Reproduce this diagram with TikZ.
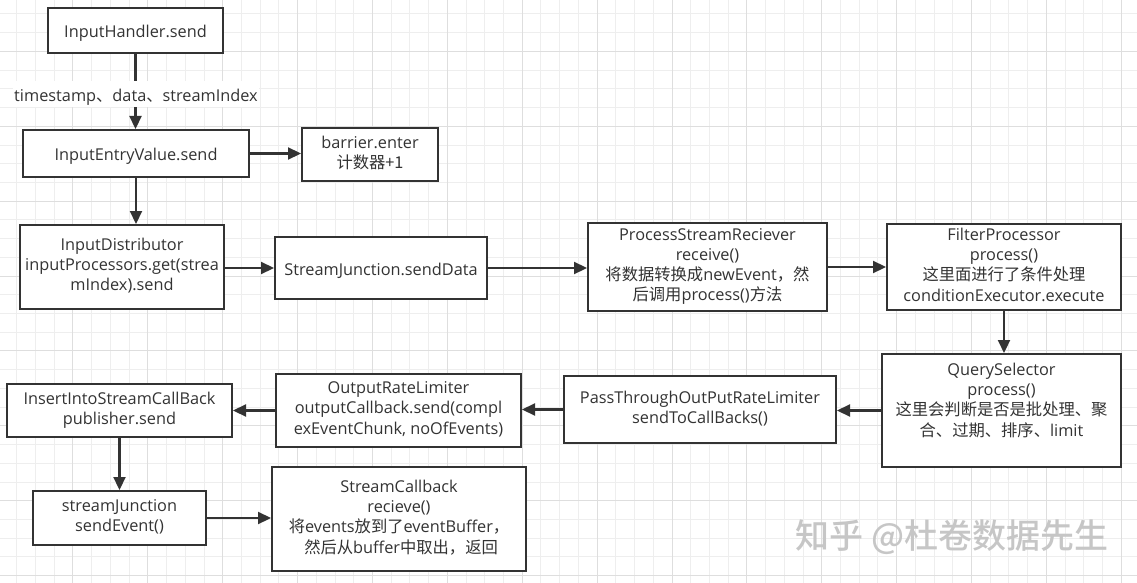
\documentclass[tikz,border=0pt]{standalone}
\usepackage{fontspec}
\setmainfont{Open Sans}
\newfontfamily\cjk{Noto Sans CJK SC}
\newfontfamily\cjkbold{Noto Sans CJK SC Medium}
\usetikzlibrary{arrows.meta}
\definecolor{linec}{HTML}{333333}
\definecolor{txt}{HTML}{333333}
\definecolor{gridminor}{HTML}{EEEEEE}
\definecolor{gridmajor}{HTML}{DEDEDE}
\definecolor{wm}{HTML}{C6C6C6}
\definecolor{wmshadow}{HTML}{9A9A9A}
\tikzset{
  struts/.style={execute at begin node={\rule{0pt}{19.6pt}}, execute at end node={\rule[-5pt]{0pt}{5pt}}},
  box/.style={draw=linec, line width=2pt, fill=white, text=txt, align=center, inner sep=0pt,
    font=\fontsize{16.3}{20.3}\selectfont, struts},
  plain/.style={text=txt, align=center, inner sep=0pt, font=\fontsize{16.3}{20.3}\selectfont, struts},
  arr/.style={draw=linec, line width=2.2pt, -{Triangle[length=13pt,width=12pt]}},
  gminor/.style={draw=gridminor, line width=1pt},
  gmajor/.style={draw=gridmajor, line width=1pt}
}
\begin{document}
\begin{tikzpicture}[x=1pt,y=-1pt]
\useasboundingbox (0,0) rectangle (1137,583);
\fill[white] (0,0) rectangle (1137,583);
\begin{scope}
\clip (0,0) rectangle (1137,583);
\foreach \k in {0,...,61} {\draw[gminor] ({16.8+18.72*\k},0) -- ++(0,583);}
\foreach \k in {0,...,31} {\draw[gminor] (0,{14+18.72*\k}) -- ++(1137,0);}
\foreach \k in {0,...,15} {\draw[gmajor] ({72.96+74.88*\k},0) -- ++(0,583);}
\foreach \k in {0,...,7} {\draw[gmajor] (0,{51.44+74.88*\k}) -- ++(1137,0);}
\end{scope}

\node[box, minimum width=175pt, minimum height=45pt] (ih) at (135.5,30.5) {InputHandler.send};
\node[box, minimum width=226pt, minimum height=47pt] (iev) at (136,153.5) {InputEntryValue.send};
\node[box, minimum width=136pt, minimum height=53pt] (bar) at (370,154.5) {barrier.enter\\{\cjk 计数器+1}};
\node[box, minimum width=204pt, minimum height=84pt] (idist) at (122,267) {InputDistributor\\inputProcessors.get(strea\\mIndex).send};
\node[box, minimum width=212pt, minimum height=62pt] (sj) at (381,268) {StreamJunction.sendData};
\node[box, minimum width=239pt, minimum height=88pt] (psr) at (707.5,267) {ProcessStreamReciever\\receive()\\{\cjk 将数据转换成}newEvent{\cjk ，然}\\{\cjk 后调用}process(){\cjk 方法}};
\node[box, minimum width=234pt, minimum height=86pt] (fp) at (1004,267) {FilterProcessor\\process()\\{\cjk 这里面进行了条件处理}\\conditionExecutor.execute};
\node[box, minimum width=239pt, minimum height=113pt] (qs) at (1001.5,410.5) {};
\node[plain] (qst) at (1001.5,402) {QuerySelector\\process()\\{\cjk 这里会判断是否是批处理、聚}\\{\cjk 合、过期、排序、}limit};
\node[box, minimum width=272pt, minimum height=67pt] (pt) at (700,409.5) {PassThroughOutPutRateLimiter\\sendToCallBacks()};
\node[box, minimum width=245pt, minimum height=73pt] (orl) at (398.5,410.5) {OutputRateLimiter\\outputCallback.send(compl\\exEventChunk, noOfEvents)};
\node[box, minimum width=225pt, minimum height=53pt] (iis) at (119.5,410.5) {InsertIntoStreamCallBack\\publisher.send};
\node[box, minimum width=173pt, minimum height=54pt] (sjs) at (119.5,518) {streamJunction\\sendEvent()};
\node[box, minimum width=254pt, minimum height=104pt] (scb) at (399,519) {StreamCallback\\recieve()\\{\cjk 将}events{\cjk 放到了}eventBuffer{\cjk ，}\\\ {\cjk 然后从}buffer{\cjk 中取出，返回}};

\draw[arr] (ih.south) -- (ih.south |- iev.north);
\node[plain, fill=white, inner sep=1pt] (lbl) at (136,94) {timestamp{\cjk 、}data{\cjk 、}streamIndex};
\draw[arr] (iev.east) -- (iev.east -| bar.west);
\draw[arr] (iev.south) -- (iev.south |- idist.north);
\draw[arr] (sj.west -| idist.east) -- (sj.west);
\draw[arr] (sj.east) -- (sj.east -| psr.west);
\draw[arr] (psr.east) -- (psr.east -| fp.west);
\draw[arr] (fp.south) -- (fp.south |- qs.north);
\draw[arr] (qs.west) -- (qs.west -| pt.east);
\draw[arr] (pt.west) -- (pt.west -| orl.east);
\draw[arr] (orl.west) -- (orl.west -| iis.east);
\draw[arr] (iis.south) -- (iis.south |- sjs.north);
\draw[arr] (sjs.east) -- (sjs.east -| scb.west);

\node[text=wm, inner sep=0pt, font=\cjkbold\fontsize{34}{40}\selectfont] (wmk) at (952,537) {知乎 @杜卷数据先生};
\end{tikzpicture}
\end{document}
